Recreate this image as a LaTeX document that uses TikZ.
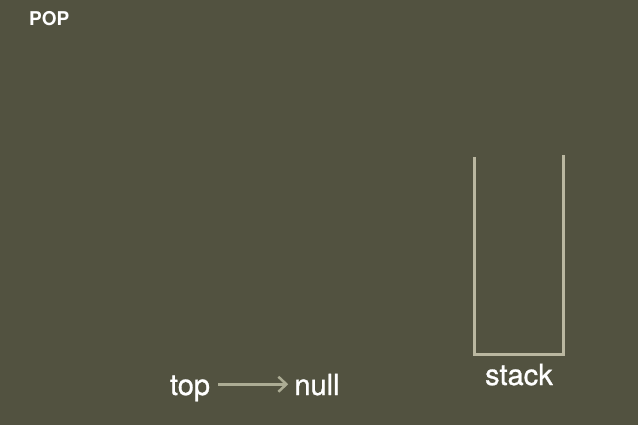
\documentclass[tikz,border=0pt]{standalone}
\usepackage{fontspec}
\setmainfont{TeX Gyre Heros}
\newfontfamily\slidefont[FakeBold=0.9]{TeX Gyre Heros}
\usetikzlibrary{arrows.meta,positioning}
\definecolor{slidebg}{RGB}{82,82,64}
\definecolor{wallcol}{RGB}{186,183,160}
\definecolor{ptrcol}{RGB}{172,172,148}

\begin{document}
\begin{tikzpicture}[x=1pt,y=-1pt,
  every node/.style={text=white,inner sep=0pt},
  word/.style={font=\slidefont\fontsize{29}{30}\selectfont,anchor=base,text height=0.75em,text depth=0.2em},
  wall/.style={draw=wallcol,line width=3pt,line join=miter},
  ptr/.style={draw=ptrcol,line width=2.5pt,-{Straight Barb[length=8pt,width=15pt]}}]
\fill[slidebg] (0,0) rectangle (638,425);

% slide title
\node[font=\bfseries\fontsize{19}{20}\selectfont,anchor=base west] (title) at (29,26) {POP};

% the empty stack
\coordinate (lt) at (474,157);
\coordinate (rt) at (563,155);
\draw[wall] (lt) -- (474,354) -- (563,354) -- (rt);
\node[word] (stack) at (519,385) {stack};

% pointer
\node[word] (top) at (190,395) {top};
\node[word] (null) at (317,395) {null};
\draw[ptr] ([xshift=8pt,yshift=8pt]top.east) -- ([xshift=-6pt,yshift=8pt]null.west);
\end{tikzpicture}
\end{document}
